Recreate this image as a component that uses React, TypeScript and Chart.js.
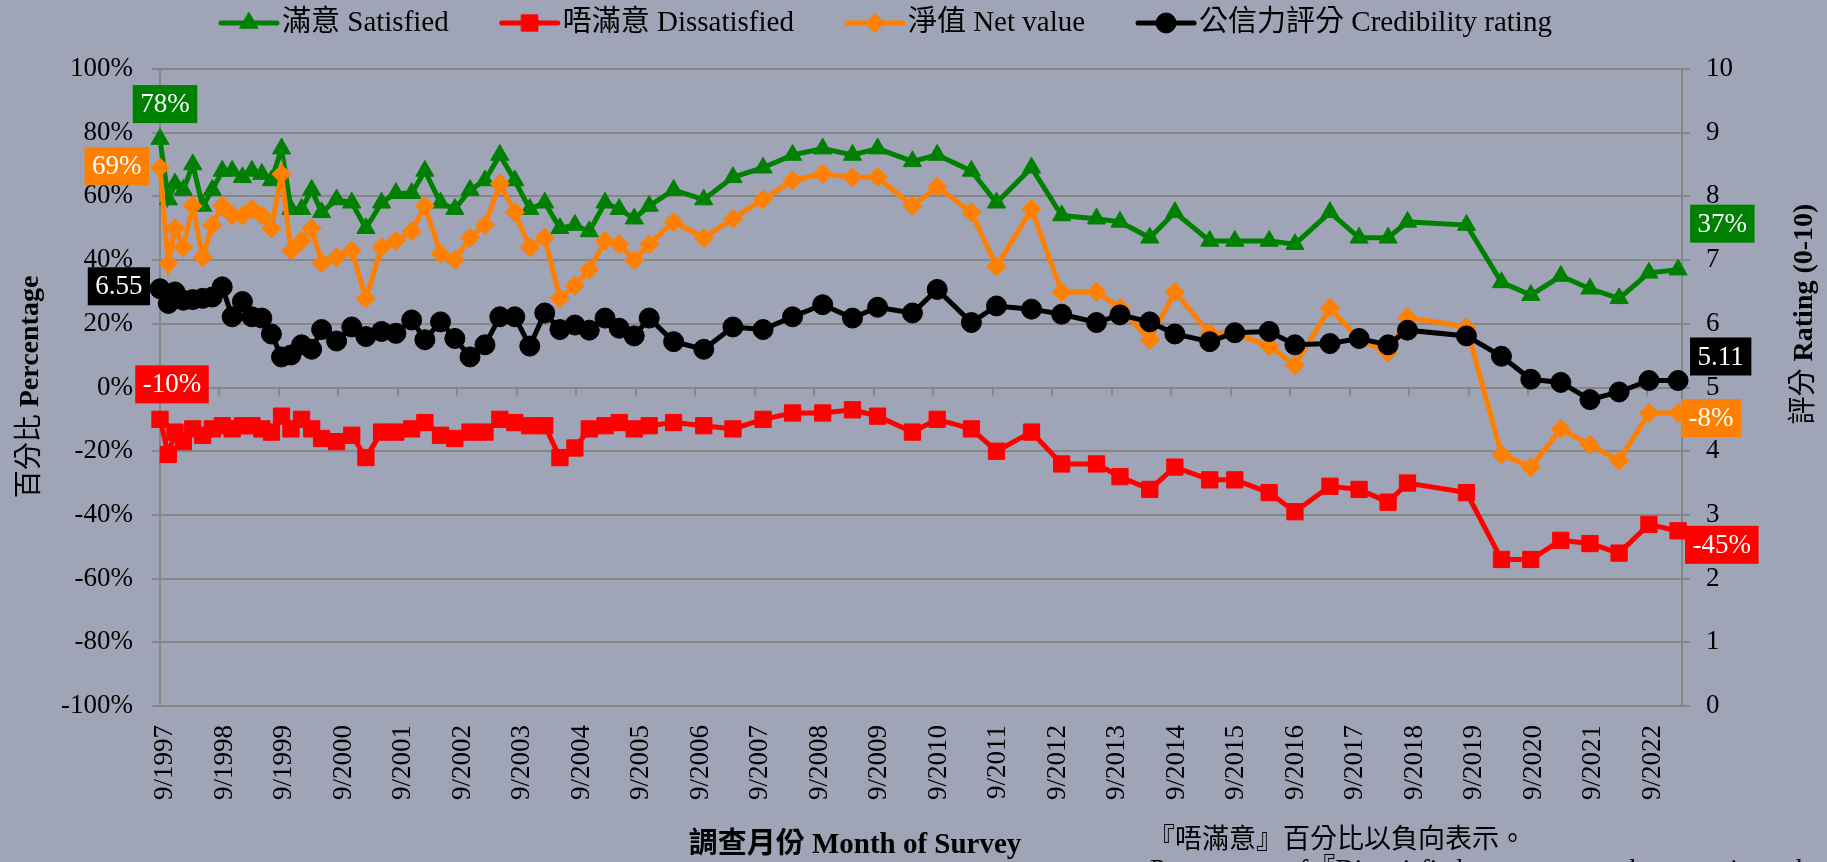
import React, { useEffect, useRef } from 'react';
import { Chart, registerables } from 'chart.js';

Chart.register(...registerables);

// ---------------- DATA ----------------
const surveyDates = [
  '1997-09-01', '1997-10-22', '1997-12-02', '1998-01-22', '1998-03-21', '1998-05-21', '1998-07-19', '1998-09-18', '1998-11-18', '1999-01-20',
  '1999-03-19', '1999-05-19', '1999-07-17', '1999-09-17', '1999-11-14', '2000-01-18', '2000-03-20', '2000-05-20', '2000-08-20', '2000-11-21',
  '2001-02-16', '2001-05-23', '2001-08-19', '2001-11-24', '2002-02-13', '2002-05-20', '2002-08-16', '2002-11-17', '2003-02-17', '2003-05-19',
  '2003-08-19', '2003-11-19', '2004-02-19', '2004-05-22', '2004-08-22', '2004-11-18', '2005-02-23', '2005-05-21', '2005-08-21', '2005-11-21',
  '2006-04-20', '2006-10-22', '2007-04-19', '2007-10-21', '2008-04-19', '2008-10-21', '2009-04-22', '2009-09-23', '2010-04-25', '2010-09-24',
  '2011-04-22', '2011-09-23', '2012-04-25', '2012-10-27', '2013-05-29', '2013-10-20', '2014-04-21', '2014-09-22', '2015-04-24', '2015-09-25',
  '2016-04-23', '2016-09-28', '2017-05-01', '2017-10-27', '2018-04-23', '2018-08-20', '2019-08-17', '2020-03-19', '2020-09-15', '2021-03-18',
  '2021-09-13', '2022-03-11', '2022-09-10', '2023-03-08',
];

const satisfied = [
  78, 59, 64, 62, 70, 57, 62, 68, 68, 66,
  68, 67, 65, 75, 56, 56, 62, 55, 59, 58,
  50, 58, 61, 61, 68, 58, 56, 62, 65, 73,
  65, 56, 58, 50, 51, 49, 58, 56, 53, 57,
  62, 59, 66, 69, 73, 75, 73, 75, 71, 73,
  68, 58, 69, 54, 53, 52, 47, 55, 46, 46,
  46, 45, 55, 47, 47, 52, 51, 33, 29, 35,
  31, 28, 36, 37,
];

const dissatisfied = [
  -10, -21, -14, -17, -13, -15, -13, -12, -13, -12,
  -12, -13, -14, -9, -13, -10, -13, -16, -17, -15,
  -22, -14, -14, -13, -11, -15, -16, -14, -14, -10,
  -11, -12, -12, -22, -19, -13, -12, -11, -13, -12,
  -11, -12, -13, -10, -8, -8, -7, -9, -14, -10,
  -13, -20, -14, -24, -24, -28, -32, -25, -29, -29,
  -33, -39, -31, -32, -36, -30, -33, -54, -54, -48,
  -49, -52, -43, -45,
];

const netValue = [
  69, 39, 50, 44, 57, 41, 51, 57, 54, 54,
  56, 54, 50, 67, 43, 46, 50, 39, 41, 43,
  28, 44, 46, 49, 57, 42, 40, 47, 51, 64,
  55, 44, 47, 28, 32, 37, 46, 45, 40, 45,
  52, 47, 53, 59, 65, 67, 66, 66, 57, 63,
  55, 38, 56, 30, 30, 25, 15, 30, 17, 17,
  13, 7, 25, 15, 11, 22, 19, -21, -25, -13,
  -18, -23, -8, -8,
];

const credibility = [
  6.55, 6.32, 6.50, 6.37, 6.38, 6.40, 6.42, 6.58, 6.11, 6.35,
  6.11, 6.09, 5.84, 5.48, 5.51, 5.67, 5.60, 5.91, 5.73, 5.95,
  5.80, 5.88, 5.85, 6.06, 5.75, 6.03, 5.77, 5.48, 5.67, 6.11,
  6.11, 5.65, 6.17, 5.91, 5.98, 5.90, 6.09, 5.93, 5.81, 6.09,
  5.72, 5.60, 5.95, 5.91, 6.11, 6.30, 6.09, 6.26, 6.17, 6.54,
  6.02, 6.28, 6.23, 6.15, 6.02, 6.14, 6.03, 5.84, 5.72, 5.86,
  5.88, 5.67, 5.69, 5.77, 5.67, 5.90, 5.81, 5.49, 5.13, 5.08,
  4.81, 4.93, 5.11, 5.11,
];

const xTickLabels = [
  '9/1997', '9/1998', '9/1999', '9/2000', '9/2001', '9/2002', '9/2003', '9/2004', '9/2005', '9/2006',
  '9/2007', '9/2008', '9/2009', '9/2010', '9/2011', '9/2012', '9/2013', '9/2014', '9/2015', '9/2016',
  '9/2017', '9/2018', '9/2019', '9/2020', '9/2021', '9/2022',
];

const seriesNames = ['滿意 Satisfied', '唔滿意 Dissatisfied', '淨值 Net value', '公信力評分 Credibility rating'];

// ---------------- STYLE ----------------
const SERIF = "'Liberation Serif', 'Noto Sans CJK TC', serif";
const BG = 'rgb(159,164,182)';
const GRID = '#868686';
const COLORS = ['#008000', '#ff0000', '#ff8000', '#000000'];
const POINT_STYLES = ['triangle', 'rect', 'rectRot', 'circle'];
const POINT_RADII = [10.5, 11.5, 9.5, 10];
const LINE_W = 5;

const ORIGIN = Date.UTC(1997, 8, 1);
const toYears = (s: string) => {
  const [y, m, d] = s.split('-').map(Number);
  return (Date.UTC(y, m - 1, d) - ORIGIN) / (365.25 * 86400000);
};

const pctFmt = (v: number) => `${Math.round(v)}%`;
const rateFmt = (v: number) => v.toFixed(2);

function drawMarker(ctx: CanvasRenderingContext2D, style: string, x: number, y: number, r: number) {
  ctx.beginPath();
  if (style === 'circle') ctx.arc(x, y, r, 0, Math.PI * 2);
  else if (style === 'rect') {
    const s = r * Math.SQRT1_2;
    ctx.rect(x - s, y - s, 2 * s, 2 * s);
  } else if (style === 'rectRot') {
    ctx.moveTo(x - r, y);
    ctx.lineTo(x, y - r);
    ctx.lineTo(x + r, y);
    ctx.lineTo(x, y + r);
    ctx.closePath();
  } else {
    ctx.moveTo(x, y - r);
    ctx.lineTo(x + 0.866 * r, y + 0.5 * r);
    ctx.lineTo(x - 0.866 * r, y + 0.5 * r);
    ctx.closePath();
  }
  ctx.fill();
  ctx.stroke();
}

function drawRich(ctx: CanvasRenderingContext2D, segs: { t: string; b: boolean }[], size: number, x: number, y: number, align: 'center' | 'left') {
  const fontOf = (b: boolean) => `${b ? 'bold ' : ''}${size}px ${SERIF}`;
  let total = 0;
  segs.forEach((s) => {
    ctx.font = fontOf(s.b);
    total += ctx.measureText(s.t).width;
  });
  let cx = align === 'center' ? x - total / 2 : x;
  ctx.textAlign = 'left';
  segs.forEach((s) => {
    ctx.font = fontOf(s.b);
    ctx.fillText(s.t, cx, y);
    cx += ctx.measureText(s.t).width;
  });
}

// data-label placement (box anchored to the first/last point of a series)
const LABELS = [
  { ds: 0, end: false, align: 'center', dx: 5, dy: -35 },
  { ds: 2, end: false, align: 'right', dx: -11, dy: -1.5 },
  { ds: 3, end: false, align: 'right', dx: -10, dy: -2.5 },
  { ds: 1, end: false, align: 'center', dx: 12, dy: -35 },
  { ds: 0, end: true, align: 'left', dx: 12, dy: -46 },
  { ds: 3, end: true, align: 'left', dx: 12, dy: -24 },
  { ds: 2, end: true, align: 'left', dx: 3, dy: 5 },
  { ds: 1, end: true, align: 'left', dx: 7, dy: 14 },
];

const bgPlugin = {
  id: 'bgFill',
  beforeDraw(chart: any) {
    const { ctx, width, height } = chart;
    ctx.save();
    ctx.fillStyle = BG;
    ctx.fillRect(0, 0, width, height);
    ctx.restore();
  },
  beforeDatasetsDraw(chart: any) {
    const { ctx } = chart;
    const xs = chart.scales.x;
    const y0 = chart.scales.y.getPixelForValue(0);
    ctx.save();
    ctx.strokeStyle = GRID;
    ctx.lineWidth = 2;
    ctx.beginPath();
    xs.ticks.forEach((t: any) => {
      const px = Math.round(xs.getPixelForValue(t.value));
      ctx.moveTo(px, y0);
      ctx.lineTo(px, y0 + 8);
    });
    ctx.stroke();
    ctx.restore();
  },
};

const labelPlugin = {
  id: 'endLabels',
  afterDatasetsDraw(chart: any) {
    const { ctx } = chart;
    ctx.save();
    ctx.font = `27px ${SERIF}`;
    ctx.textBaseline = 'middle';
    ctx.textAlign = 'center';
    LABELS.forEach((l) => {
      const meta = chart.getDatasetMeta(l.ds);
      const idx = l.end ? meta.data.length - 1 : 0;
      const pt = meta.data[idx];
      const v = chart.data.datasets[l.ds].data[idx].y;
      const text = l.ds === 3 ? rateFmt(v) : pctFmt(v);
      const w = ctx.measureText(text).width + 15;
      const h = 38;
      let left = pt.x + l.dx - w / 2;
      if (l.align === 'left') left = pt.x + l.dx;
      if (l.align === 'right') left = pt.x + l.dx - w;
      const cy = pt.y + l.dy;
      ctx.fillStyle = COLORS[l.ds];
      ctx.fillRect(left, cy - h / 2, w, h);
      ctx.fillStyle = '#ffffff';
      ctx.fillText(text, left + w / 2, cy + 1);
    });
    ctx.restore();
  },
};

const decorPlugin = {
  id: 'decor',
  afterDraw(chart: any) {
    const { ctx } = chart;
    ctx.save();
    ctx.fillStyle = '#000';
    ctx.textBaseline = 'middle';

    // legend
    let lx = 221;
    const ly = 23;
    seriesNames.forEach((name, i) => {
      ctx.strokeStyle = COLORS[i];
      ctx.lineWidth = LINE_W;
      ctx.lineCap = 'round';
      ctx.beginPath();
      ctx.moveTo(lx, ly);
      ctx.lineTo(lx + 56, ly);
      ctx.stroke();
      ctx.fillStyle = COLORS[i];
      ctx.lineWidth = 1;
      drawMarker(ctx, POINT_STYLES[i], lx + 28, ly, POINT_RADII[i]);
      ctx.fillStyle = '#000';
      ctx.font = `29px ${SERIF}`;
      ctx.textAlign = 'left';
      ctx.fillText(name, lx + 61, ly);
      lx += 61 + ctx.measureText(name).width + 53;
    });

    // left axis title
    ctx.save();
    ctx.translate(31, 387);
    ctx.rotate(-Math.PI / 2);
    drawRich(ctx, [{ t: '百分比 ', b: false }, { t: 'Percentage', b: true }], 28, 0, 0, 'center');
    ctx.restore();

    // right axis title
    ctx.save();
    ctx.translate(1805, 314);
    ctx.rotate(-Math.PI / 2);
    drawRich(ctx, [{ t: '評分 ', b: false }, { t: 'Rating (0-10)', b: true }], 28, 0, 0, 'center');
    ctx.restore();

    // x axis title
    drawRich(ctx, [{ t: '調查月份 Month of Survey', b: true }], 29, 855, 846, 'center');

    // note
    ctx.font = `27px ${SERIF}`;
    ctx.textAlign = 'left';
    ctx.fillText('『唔滿意』百分比以負向表示。', 1148, 841);
    ctx.textBaseline = 'top';
    ctx.fillText('Percentages of『Dissatisfied』are expressed as negative values.', 1150, 857);
    ctx.restore();
  },
};

export default function App() {
  const canvasRef = useRef<HTMLCanvasElement | null>(null);

  useEffect(() => {
    if (!canvasRef.current) return;
    Chart.defaults.font.family = SERIF;
    Chart.defaults.color = '#000';
    const seriesValues = [satisfied, dissatisfied, netValue, credibility];
    const xs = surveyDates.map(toYears);
    const datasets = seriesValues.map((vals, i) => ({
      label: seriesNames[i],
      data: vals.map((v, j) => ({ x: xs[j], y: v })),
      yAxisID: i === 3 ? 'y1' : 'y',
      borderColor: COLORS[i],
      backgroundColor: COLORS[i],
      pointBackgroundColor: COLORS[i],
      pointBorderColor: COLORS[i],
      borderWidth: LINE_W,
      pointStyle: POINT_STYLES[i],
      pointRadius: POINT_RADII[i],
      pointBorderWidth: 1,
      tension: 0,
      clip: false as any,
      order: 4 - i,
    }));

    const chart = new Chart(canvasRef.current, {
      type: 'line',
      data: { datasets },
      plugins: [bgPlugin, labelPlugin, decorPlugin],
      options: {
        animation: false,
        responsive: false,
        devicePixelRatio: 1,
        layout: { padding: { top: 69, left: 0, right: 0, bottom: 0 } },
        plugins: { legend: { display: false }, tooltip: { enabled: false }, title: { display: false } },
        scales: {
          x: {
            type: 'linear',
            position: 'bottom',
            min: 0,
            max: 25.58,
            afterBuildTicks: (axis: any) => {
              axis.ticks = axis.ticks.filter((t: any) => Math.abs(t.value - Math.round(t.value)) < 1e-6);
            },
            afterFit: (s: any) => { s.height = 156; },
            ticks: {
              stepSize: 1,
              autoSkip: false,
              minRotation: 90,
              maxRotation: 90,
              padding: 19,
              labelOffset: 5,
              color: '#000',
              font: { size: 27, family: SERIF },
              callback: (v: any) => xTickLabels[Math.round(Number(v))] ?? '',
            },
            grid: { display: false, drawTicks: false },
            border: { display: true, color: GRID, width: 2 },
          },
          y: {
            type: 'linear',
            position: 'left',
            min: -100,
            max: 100,
            afterFit: (s: any) => { s.width = 160; },
            ticks: {
              stepSize: 20,
              padding: 19,
              color: '#000',
              font: { size: 27, family: SERIF },
              callback: (v: any) => `${v}%`,
            },
            grid: { color: GRID, lineWidth: 2, tickLength: 8, drawTicks: true },
            border: { display: true, color: GRID, width: 2 },
          },
          y1: {
            type: 'linear',
            position: 'right',
            min: 0,
            max: 10,
            afterFit: (s: any) => { s.width = 145; },
            ticks: {
              stepSize: 1,
              padding: 16,
              color: '#000',
              font: { size: 27, family: SERIF },
            },
            grid: { drawOnChartArea: false, color: GRID, lineWidth: 2, tickLength: 8, drawTicks: true },
            border: { display: true, color: GRID, width: 2 },
          },
        },
      },
    } as any);
    return () => chart.destroy();
  }, []);

  return (
    <div style={{ position: 'fixed', left: 0, top: 0, width: 1827, height: 862, overflow: 'hidden' }}>
      <canvas ref={canvasRef} width={1827} height={862} style={{ display: 'block' }} />
    </div>
  );
}
